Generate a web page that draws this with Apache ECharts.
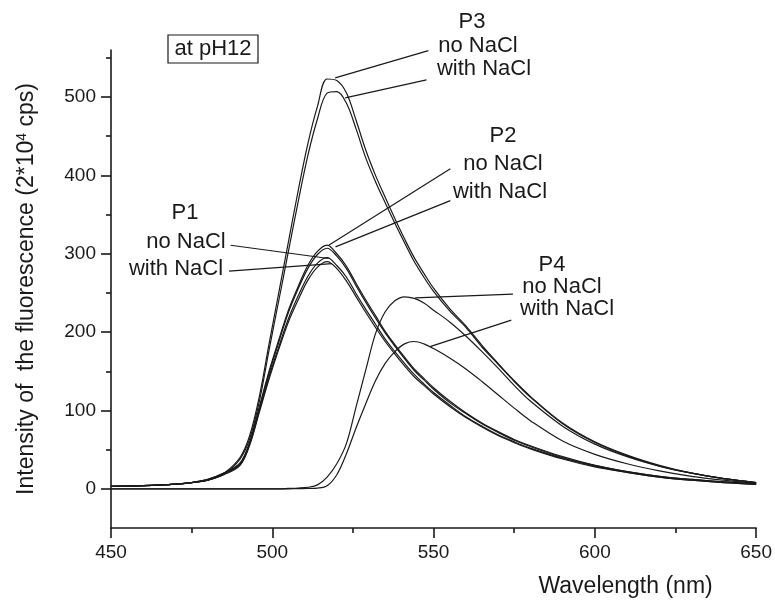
<!DOCTYPE html>
<html>
<head>
<meta charset="utf-8">
<script src="https://cdn.jsdelivr.net/npm/echarts@6/dist/echarts.min.js"></script>
<style>
  html, body { margin: 0; padding: 0; background: #fff; }
  #chart { width: 775px; height: 603px; }
</style>
</head>
<body>
<div id="chart"></div>
<script>
// wavelength grid (nm)
var wavelength = [450,460,470,475,480,485,490,493,496,499,502,505,508,511,514,517,520,523,526,529,532,535,538,541,544,547,550,555,560,565,570,575,580,590,600,610,620,630,640,650];

// intensity (2*10^4 cps)
var p1NoNaCl   = [3,4,6,8,11,19,31,57,100,143,181,217,246,271,288,295,285,270,249,229,210,191,175,160,146,134,123,107,92,80,69,60,52,39,29,21,15,11,8,6];
var p1WithNaCl = [3,4,6,8,11,18,30,56,98,140,178,213,241,266,283,290,281,265,245,225,206,188,172,157,143,132,121,105,91,79,68,59,51,38,28,21,15,11,8,6];
var p2NoNaCl   = [3,4,6,8,12,20,33,60,105,150,190,228,258,285,303,311,300,284,262,241,221,201,184,168,153,141,129,112,97,84,73,63,55,41,30,22,16,12,9,6];
var p2WithNaCl = [3,4,6,8,12,20,32,58,102,147,187,225,255,281,299,307,297,281,259,238,218,199,182,166,151,139,127,110,96,83,72,62,54,40,30,22,16,12,9,6];
var p3NoNaCl   = [3,4,6,8,11,20,40,68,118,185,250,315,380,440,488,523,521,505,470,432,400,372,345,319,295,275,256,230,208,183,160,138,118,84,60,43,30,20,13,8];
var p3WithNaCl = [3,4,6,8,11,19,38,64,112,177,240,303,366,425,472,505,507,492,459,422,392,365,339,314,290,270,252,227,206,181,159,137,117,83,59,42,29,20,13,8];
var p4NoNaCl   = [0,0,0,0,0,0,0,0,0,0,0,0.5,1,2,5,15,32,58,105,152,198,226,240,245,243,237,228,213,195,175,154,132,112,80,57,41,29,20,13,8];
var p4WithNaCl = [0,0,0,0,0,0,0,0,0,0,0,0,0.3,0.5,1,4,18,45,78,109,138,160,175,185,188,185,179,167,153,137,120,103,87,61,44,32,23,16,11,7];

// axis ticks
var xMajor = [450,500,550,600,650];
var xMinor = [475,525,575,625];
var yMajor = [0,100,200,300,400,500];
var yMinor = [50,150,250,350,450,550];

// leader lines [from, to] in data units
var leaders = [
  [[548.4,559.2],[519.5,524.5]],
  [[547.8,521.9],[522.6,499.0]],
  [[555.2,408.5],[517.5,310.8]],
  [[555.2,367.8],[519.6,308.8]],
  [[487.1,310.8],[517.5,293.9]],
  [[486.6,277.7],[518.5,287.5]],
  [[574.6,248.4],[544.3,243.8]],
  [[574.1,215.3],[548.9,181.4]]
];

var ink = '#1a1a1a';
var fontFam = '"Liberation Sans", Arial, sans-serif';

function pairs(ys){
  var out = [];
  for(var i = 0; i < wavelength.length; i++){
    out.push([wavelength[i], ys[i]]);
  }
  return out;
}

function curve(name, ys){
  return {
    name: name,
    type: 'line',
    data: pairs(ys),
    smooth: 0.35,
    showSymbol: false,
    symbol: 'none',
    lineStyle: { color: ink, width: 1.2 },
    z: 3
  };
}

var chart = echarts.init(document.getElementById('chart'));

var series = [
  curve('P1 no NaCl', p1NoNaCl),
  curve('P1 with NaCl', p1WithNaCl),
  curve('P2 no NaCl', p2NoNaCl),
  curve('P2 with NaCl', p2WithNaCl),
  curve('P3 no NaCl', p3NoNaCl),
  curve('P3 with NaCl', p3WithNaCl),
  curve('P4 no NaCl', p4NoNaCl),
  curve('P4 with NaCl', p4WithNaCl)
];

// leader lines
series.push({
  name: 'leaders',
  type: 'line',
  data: [],
  markLine: {
    silent: true,
    symbol: ['none','none'],
    label: { show: false },
    lineStyle: { color: ink, width: 1.2, type: 'solid' },
    data: leaders.map(function(l){ return [{coord: l[0]}, {coord: l[1]}]; })
  }
});

// text labels
function txt(x, y, s){
  return {
    type: 'text', x: x, y: y,
    style: { text: s, fill: ink, font: '22px ' + fontFam, textAlign: 'center', textVerticalAlign: 'middle' }
  };
}

var tickStyle = { color: ink, width: 1.6 };

var option = {
  animation: false,
  backgroundColor: '#fff',
  grid: { left: 111, right: 15, top: 50, bottom: 73, containLabel: false },
  xAxis: [{
    type: 'value', min: 450, max: 650, position: 'bottom',
    name: 'Wavelength (nm)', nameLocation: 'middle', nameGap: 47,
    nameTextStyle: { fontSize: 23, color: ink, fontFamily: fontFam, padding: [0,0,0,384] },
    // sit on the zero of a hidden helper axis that starts at 0 = bottom edge
    axisLine: { show: true, onZero: true, onZeroAxisIndex: 2, lineStyle: tickStyle },
    axisTick: { show: true, inside: false, customValues: xMajor, length: 10, lineStyle: tickStyle },
    axisLabel: { customValues: xMajor, fontSize: 19, color: ink, fontFamily: fontFam, margin: 15 },
    splitLine: { show: false }
  }, {
    type: 'value', min: 450, max: 650, position: 'bottom', offset: 0,
    axisLine: { show: false, onZero: true, onZeroAxisIndex: 2 },
    axisTick: { show: true, inside: false, customValues: xMinor, length: 5, lineStyle: tickStyle },
    axisLabel: { show: false },
    splitLine: { show: false }
  }],
  yAxis: [{
    type: 'value', min: -50, max: 560,
    name: 'Intensity of  the fluorescence (2*10{sup|4} cps)',
    nameLocation: 'middle', nameGap: 72,
    nameTextStyle: {
      fontSize: 23, color: ink, fontFamily: fontFam,
      rich: { sup: { fontSize: 14, color: ink, fontFamily: fontFam, verticalAlign: 'top', padding: [0,0,10,0] } }
    },
    axisLine: { show: true, onZero: false, lineStyle: tickStyle },
    axisTick: { show: true, customValues: yMajor, length: 10, lineStyle: tickStyle },
    axisLabel: { customValues: yMajor, fontSize: 19, color: ink, fontFamily: fontFam, margin: 15 },
    splitLine: { show: false }
  }, {
    type: 'value', min: -50, max: 560, position: 'left', offset: 0,
    axisLine: { show: false, onZero: false },
    axisTick: { show: true, customValues: yMinor, length: 5, lineStyle: tickStyle },
    axisLabel: { show: false },
    splitLine: { show: false }
  }, {
    type: 'value', min: 0, max: 610, show: false
  }],
  graphic: [
    { type: 'rect', shape: { x: 168, y: 35, width: 90, height: 28 }, style: { fill: '#fff', stroke: ink, lineWidth: 1.2 } },
    txt(213, 49, 'at pH12'),
    txt(472, 22, 'P3'),
    txt(478, 46, 'no NaCl'),
    txt(484, 69, 'with NaCl'),
    txt(503, 136, 'P2'),
    txt(503, 164, 'no NaCl'),
    txt(500, 192, 'with NaCl'),
    txt(185, 213, 'P1'),
    txt(186, 242, 'no NaCl'),
    txt(176, 269, 'with NaCl'),
    txt(552, 265, 'P4'),
    txt(562, 287, 'no NaCl'),
    txt(567, 309, 'with NaCl')
  ],
  series: series
};

chart.setOption(option);
</script>
</body>
</html>
